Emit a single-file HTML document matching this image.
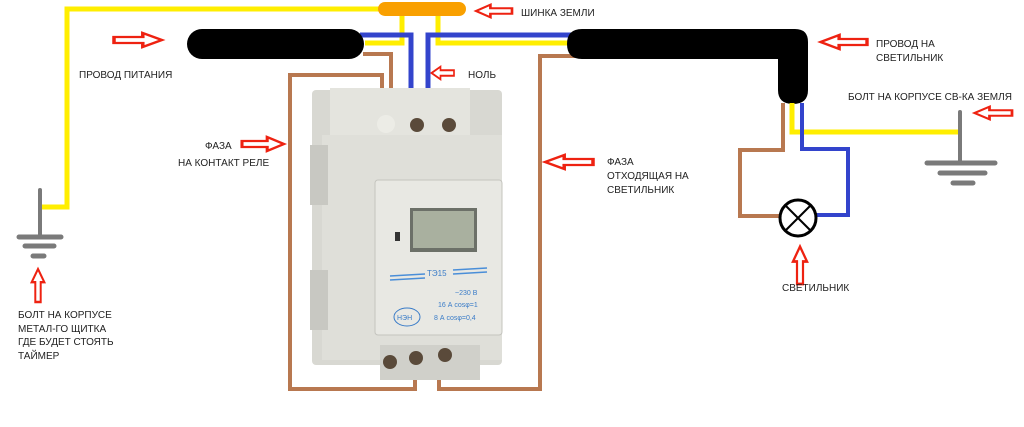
<!DOCTYPE html>
<html><head><meta charset="utf-8"><style>
html,body{margin:0;padding:0;background:#fff;width:1024px;height:427px;overflow:hidden}
text{font-family:"Liberation Sans","Noto Sans CJK SC",sans-serif;font-size:10px;fill:#222}
</style></head><body>
<svg width="1024" height="427" viewBox="0 0 1024 427" xmlns="http://www.w3.org/2000/svg">
<defs>
<path id="ar" d="M0,-3 L18,-3 L18,-7 L30,0 L18,7 L18,3 L0,3 Z" fill="#fff" stroke="#e21" stroke-width="2.2"/>
</defs>
<g fill="none" stroke-linejoin="miter">
<!-- yellow ground left -->
<polyline points="40,207 67,207 67,9 385,9" stroke="#ffee00" stroke-width="5"/>
<!-- yellow from bus -->
<polyline points="365,43 402,43 402,12" stroke="#ffee00" stroke-width="5"/>
<polyline points="438,12 438,43 575,43" stroke="#ffee00" stroke-width="5"/>
<!-- blue -->
<polyline points="360,35 411,35 411,97" stroke="#3344cc" stroke-width="5"/>
<polyline points="428,97 428,35 580,35" stroke="#3344cc" stroke-width="5"/>
<!-- brown -->
<polyline points="363,54 391,54 391,97" stroke="#b87850" stroke-width="4"/>
<polyline points="382,97 382,75 290,75 290,389 415,389 415,372" stroke="#b87850" stroke-width="4"/>
<polyline points="439,372 439,389 540,389 540,56 575,56" stroke="#b87850" stroke-width="4"/>
</g>
<!-- bus -->
<rect x="378" y="2" width="88" height="14" rx="7" fill="#f9a000"/>
<!-- black cables -->
<rect x="187" y="29" width="177" height="30" rx="15" fill="#000"/>
<path d="M582,29 L795,29 Q808,29 808,42 L808,90 Q808,104 793,104 Q778,104 778,90 L778,59 L582,59 Q567,59 567,44 Q567,29 582,29 Z" fill="#000"/>
<!-- timer -->
<g>
<rect x="312" y="90" width="190" height="275" rx="4" fill="#d8d8d2"/>
<rect x="330" y="88" width="140" height="50" fill="#e4e4de"/>
<rect x="322" y="135" width="180" height="225" fill="#dfdfd9"/>
<rect x="310" y="145" width="18" height="60" fill="#c8c8c2"/>
<rect x="310" y="270" width="18" height="60" fill="#c8c8c2"/>
<rect x="375" y="180" width="127" height="155" rx="3" fill="#e8e8e3" stroke="#c4c4be"/>
<rect x="410" y="208" width="67" height="44" fill="#6c7068"/>
<rect x="413" y="211" width="61" height="37" fill="#a9b09f"/>
<rect x="395" y="232" width="5" height="9" fill="#333"/>
<line x1="390" y1="276" x2="425" y2="274" stroke="#4a8ed8" stroke-width="1.5"/>
<line x1="390" y1="280" x2="425" y2="278" stroke="#4a8ed8" stroke-width="1.5"/>
<line x1="453" y1="270" x2="487" y2="268" stroke="#4a8ed8" stroke-width="1.5"/>
<line x1="453" y1="274" x2="487" y2="272" stroke="#4a8ed8" stroke-width="1.5"/>
<text x="427" y="276" style="font-size:8px;fill:#3a7cc8">ТЭ15</text>
<text x="455" y="295" style="font-size:7px;fill:#3a7cc8">~230 В</text>
<text x="438" y="307" style="font-size:7px;fill:#3a7cc8">16 А cosφ=1</text>
<text x="434" y="320" style="font-size:7px;fill:#3a7cc8">8 А cosφ=0,4</text>
<ellipse cx="407" cy="317" rx="13" ry="9" fill="none" stroke="#3a7cc8"/>
<text x="397" y="320" style="font-size:7px;fill:#3a7cc8">НЭН</text>
<circle cx="386" cy="124" r="9" fill="#ececE6"/>
<circle cx="417" cy="125" r="7" fill="#5a4a3a"/><circle cx="449" cy="125" r="7" fill="#5a4a3a"/>
<rect x="380" y="345" width="100" height="35" fill="#d0d0ca"/>
<circle cx="390" cy="362" r="7" fill="#5a4a3a"/><circle cx="416" cy="358" r="7" fill="#5a4a3a"/><circle cx="445" cy="355" r="7" fill="#5a4a3a"/>
</g>
<!-- right side luminaire -->
<g fill="none">
<polyline points="783,103 783,150 740,150 740,216 781,216" stroke="#b87850" stroke-width="4"/>
<polyline points="792,103 792,132 962,132" stroke="#ffee00" stroke-width="5"/>
<polyline points="802,103 802,149 848,149 848,215 816,215" stroke="#3344cc" stroke-width="4"/>
<circle cx="798" cy="218" r="18" fill="#fff" stroke="#000" stroke-width="3"/>
<line x1="786" y1="206" x2="810" y2="230" stroke="#000" stroke-width="2"/>
<line x1="810" y1="206" x2="786" y2="230" stroke="#000" stroke-width="2"/>
</g>
<!-- grounds -->
<g stroke="#7a7a7a" stroke-linecap="round">
<line x1="960" y1="112" x2="960" y2="162" stroke-width="4"/>
<line x1="927" y1="163" x2="995" y2="163" stroke-width="5"/>
<line x1="940" y1="173" x2="985" y2="173" stroke-width="5"/>
<line x1="953" y1="183" x2="973" y2="183" stroke-width="5"/>
<line x1="40" y1="190" x2="40" y2="236" stroke-width="4"/>
<line x1="19" y1="237" x2="61" y2="237" stroke-width="5"/>
<line x1="25" y1="246" x2="54" y2="246" stroke-width="5"/>
<line x1="33" y1="256" x2="44" y2="256" stroke-width="5"/>
</g>
<!-- arrows -->
<use href="#ar" transform="translate(114,40) scale(1.6,1)"/>
<use href="#ar" transform="translate(512,11) scale(-1.2,0.9)"/>
<use href="#ar" transform="translate(454,73) scale(-0.75,0.9)"/>
<use href="#ar" transform="translate(242,144) scale(1.4,1)"/>
<use href="#ar" transform="translate(593,162) scale(-1.6,1)"/>
<use href="#ar" transform="translate(867,42) scale(-1.55,1)"/>
<use href="#ar" transform="translate(1012,113) scale(-1.25,0.9)"/>
<use href="#ar" transform="translate(38,302) rotate(-90) scale(1.1,0.9)"/>
<use href="#ar" transform="translate(800,284) rotate(-90) scale(1.25,1)"/>
<!-- labels -->
<text x="521" y="16">ШИНКА ЗЕМЛИ</text>
<text x="79" y="78">ПРОВОД ПИТАНИЯ</text>
<text x="468" y="78">НОЛЬ</text>
<text x="205" y="149">ФАЗА</text>
<text x="178" y="166">НА КОНТАКТ РЕЛЕ</text>
<text x="607" y="165">ФАЗА</text>
<text x="607" y="179">ОТХОДЯЩАЯ НА</text>
<text x="607" y="193">СВЕТИЛЬНИК</text>
<text x="876" y="47">ПРОВОД НА</text>
<text x="876" y="61">СВЕТИЛЬНИК</text>
<text x="848" y="100">БОЛТ НА КОРПУСЕ СВ-КА ЗЕМЛЯ</text>
<text x="782" y="291">СВЕТИЛЬНИК</text>
<text x="18" y="318">БОЛТ НА КОРПУСЕ</text>
<text x="18" y="332">МЕТАЛ-ГО ЩИТКА</text>
<text x="18" y="345">ГДЕ БУДЕТ СТОЯТЬ</text>
<text x="18" y="359">ТАЙМЕР</text>
</svg>
</body></html>
